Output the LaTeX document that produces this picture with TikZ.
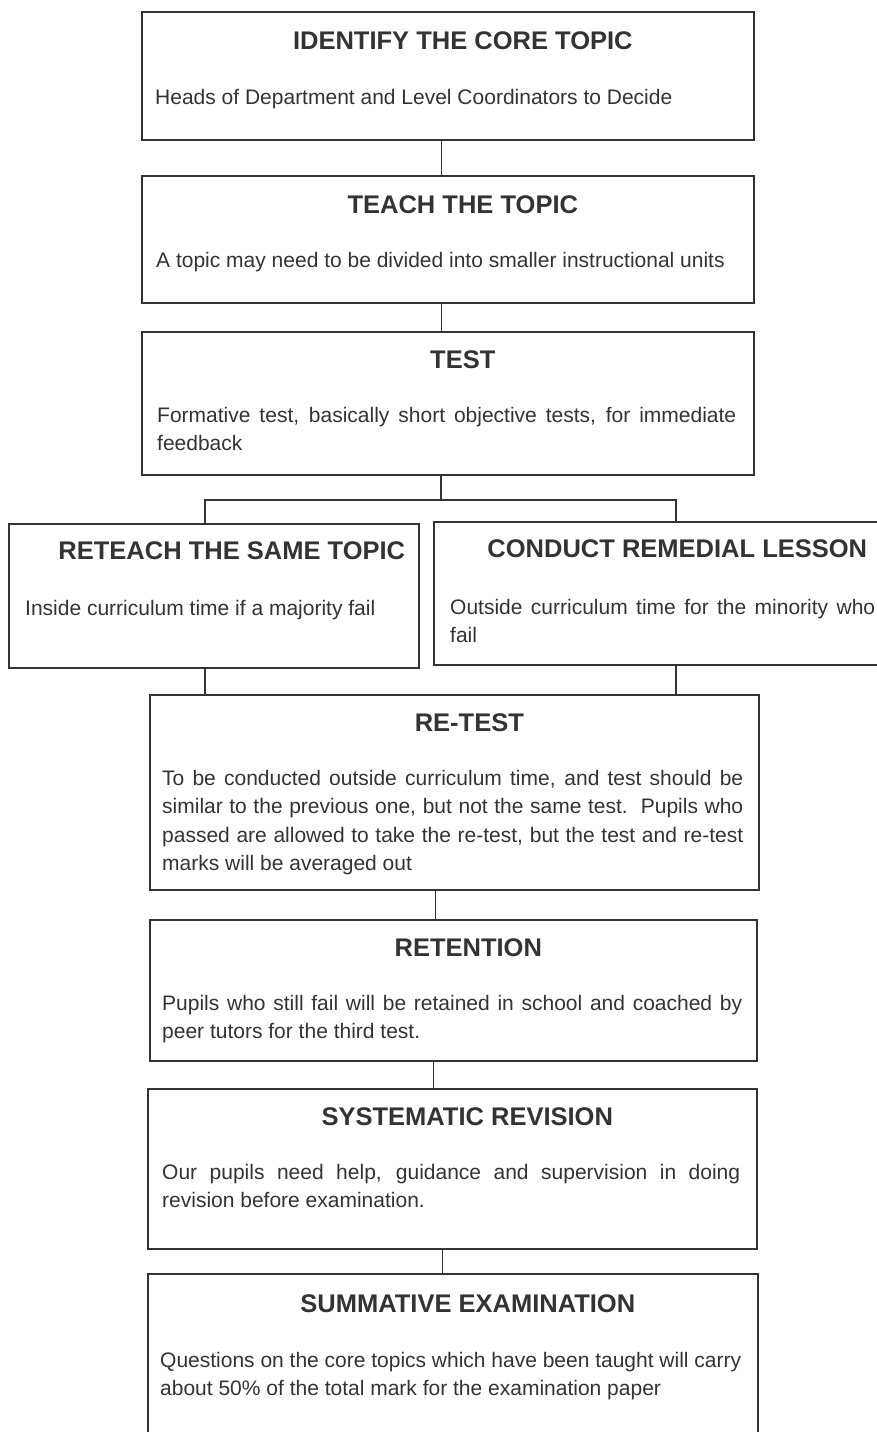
\documentclass[tikz,border=0pt]{standalone}
\usepackage{fontspec}
\setmainfont{Liberation Sans}
\usetikzlibrary{positioning}

\tikzset{
  x=1pt, y=1pt,
  stage/.style={draw=black!80, line width=1.6pt, anchor=north west, inner sep=0pt},
  heading/.style={font=\bfseries\fontsize{25.5}{30}\selectfont, text=black!80},
  detail/.style={font=\fontsize{21}{28.5}\selectfont, text=black!80, align=justify,
    anchor=north west, inner sep=0pt},
  link/.style={draw=black!80, line width=1.3pt},
}

\begin{document}
\begin{tikzpicture}
    \useasboundingbox (0,0) rectangle (877,-1432);
    % the boxes
    \node[stage, minimum width=612, minimum height=128] (core) at (141,-11) {};
    \node[stage, minimum width=612, minimum height=127] (teach) at (141,-175) {};
    \node[stage, minimum width=612, minimum height=143] (test) at (141,-331) {};
    \node[stage, minimum width=410, minimum height=144] (reteach) at (8,-523) {};
    \node[stage, minimum width=447, minimum height=143] (remedial) at (433,-521) {};
    \node[stage, minimum width=609, minimum height=195] (retest) at (149,-694) {};
    \node[stage, minimum width=607, minimum height=141] (retention) at (149,-919) {};
    \node[stage, minimum width=609, minimum height=160] (revision) at (147,-1088) {};
    \node[stage, minimum width=610, minimum height=175] (summative) at (147,-1273) {};

    % titles
    \node[heading] at ([xshift=15,yshift=-30]core.north) {IDENTIFY THE CORE TOPIC};
    \node[heading] at ([xshift=15,yshift=-30]teach.north) {TEACH THE TOPIC};
    \node[heading] at ([xshift=15,yshift=-29]test.north) {TEST};
    \node[heading] at ([xshift=18,yshift=-28]reteach.north) {RETEACH THE SAME TOPIC};
    \node[heading] at ([xshift=20,yshift=-28]remedial.north) {CONDUCT REMEDIAL LESSON};
    \node[heading] at ([xshift=15,yshift=-29]retest.north) {RE-TEST};
    \node[heading] at ([xshift=15,yshift=-29]retention.north) {RETENTION};
    \node[heading] at ([xshift=15,yshift=-29]revision.north) {SYSTEMATIC REVISION};
    \node[heading] at ([xshift=15,yshift=-31]summative.north) {SUMMATIVE EXAMINATION};

    % body texts
    \node[detail, text width=580] at ([xshift=14,yshift=-78]core.north west)
        {Heads of Department and Level Coordinators to Decide};
    \node[detail, text width=580] at ([xshift=15,yshift=-77]teach.north west)
        {A topic may need to be divided into smaller instructional units};
    \node[detail, text width=579] at ([xshift=16,yshift=-76]test.north west)
        {Formative test, basically short objective tests, for immediate\linebreak feedback};
    \node[detail, text width=390] at ([xshift=17,yshift=-77]reteach.north west)
        {Inside curriculum time if a majority fail};
    \node[detail, text width=425] at ([xshift=17,yshift=-78]remedial.north west)
        {Outside curriculum time for the minority who\linebreak fail};
    \node[detail, text width=581] at ([xshift=13,yshift=-76]retest.north west)
        {To be conducted outside curriculum time, and test should be\linebreak
         similar to the previous one, but not the same test.\ \ Pupils who\linebreak
         passed are allowed to take the re-test, but the test and re-test\linebreak
         marks will be averaged out};
    \node[detail, text width=580] at ([xshift=13,yshift=-76]retention.north west)
        {Pupils who still fail will be retained in school and coached by\linebreak
         peer tutors for the third test.};
    \node[detail, text width=578] at ([xshift=15,yshift=-76]revision.north west)
        {Our pupils need help, guidance and supervision in doing\linebreak
         revision before examination.};
    \node[detail, text width=581] at ([xshift=13,yshift=-79]summative.north west)
        {Questions on the core topics which have been taught will carry\linebreak
         about 50\% of the total mark for the examination paper};

    % connectors
    \coordinate (fork) at (441,-500);
    \coordinate (forkL) at (205,-500);
    \coordinate (forkR) at (676,-500);
    \draw[link] ([xshift=-6]core.south) -- ([xshift=-6]core.south |- teach.north);
    \draw[link] ([xshift=-6]teach.south) -- ([xshift=-6]teach.south |- test.north);
    \draw[link] (test.south -| fork) -- (fork);
    \draw[link] (reteach.north -| forkL) -- (forkL) -- (forkR) -- (remedial.north -| forkR);
    \draw[link] (reteach.south -| forkL) -- (retest.north -| forkL);
    \draw[link] (remedial.south -| forkR) -- (retest.north -| forkR);
    \draw[link] ([xshift=-19]retest.south) -- ([xshift=-19]retest.south |- retention.north);
    \draw[link] ([xshift=-20]retention.south) -- ([xshift=-20]retention.south |- revision.north);
    \draw[link] ([xshift=-10]revision.south) -- ([xshift=-10]revision.south |- summative.north);
\end{tikzpicture}
\end{document}
